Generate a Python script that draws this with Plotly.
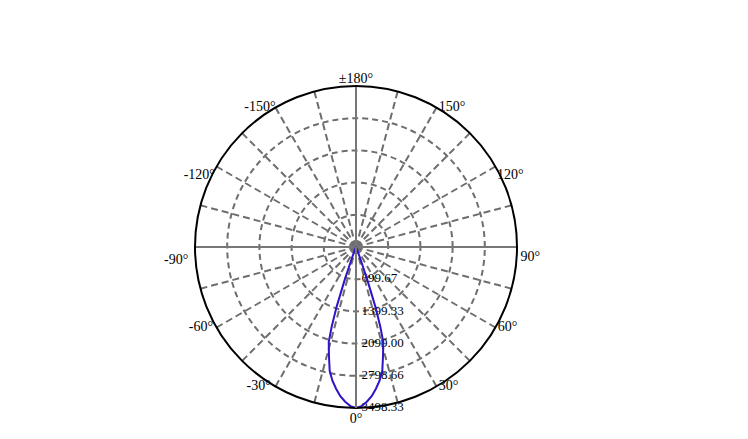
import plotly.graph_objects as go

# candela distribution (symmetric lobe around 0 deg)
angles = [0, 2, 4, 6, 8, 10, 12, 14, 16, 17, 18, 19, 20, 21, 22, 24, 26, 30, 45, 60, 90, 120, 150, 180]
intensity = [3498, 3460, 3370, 3260, 3110, 2950, 2750, 2430, 2150, 1800, 1350, 750, 300, 120, 50, 15, 5, 0, 0, 0, 0, 0, 0, 0]

r_ticks = [699.67, 1399.33, 2099.00, 2798.66, 3498.33]
r_labels = ["699.67", "1399.33", "2099.00", "2798.66", "3498.33"]
theta_ticks = list(range(0, 360, 15))
label_angles = [0, 30, 60, 90, 120, 150, 180, 210, 240, 270, 300, 330]
label_texts = ["0°", "30°", "60°", "90°", "120°", "150°", "±180°", "-150°", "-120°", "-90°", "-60°", "-30°"]

label_pos = ["bottom center", "middle right", "middle right", "bottom right", "bottom right", "middle right",
             "top center", "middle left", "bottom left", "bottom left", "middle left", "middle left"]
label_pad = [6, 2, 2, 4, 1, 2, 0, 0, 1, 9, 4, 6]

# full curve: -180..180
theta = [-a for a in angles[::-1]] + angles[1:]
r = intensity[::-1] + intensity[1:]

fig = go.Figure()

# solid main axes 0/90/180/270
for a in [0, 90, 180, 270]:
    fig.add_trace(go.Scatterpolar(r=[0, r_ticks[-1]], theta=[a, a], mode="lines",
                                  line=dict(color="#777777", width=2), hoverinfo="skip",
                                  showlegend=False))

# angle labels sitting on the outer circle (invisible markers only give padding)
fig.add_trace(go.Scatterpolar(r=[r_ticks[-1]] * len(label_angles), theta=label_angles,
                              mode="markers+text", text=label_texts, textposition=label_pos,
                              marker=dict(size=label_pad, opacity=0),
                              textfont=dict(family="Liberation Serif", size=14, color="black"),
                              cliponaxis=False, hoverinfo="skip", showlegend=False))

# radial value labels along the 0 deg line
fig.add_trace(go.Scatterpolar(r=r_ticks, theta=[0] * len(r_ticks), mode="markers+text",
                              text=r_labels, textposition="middle right",
                              marker=dict(size=7, opacity=0),
                              textfont=dict(family="Liberation Serif", size=13, color="black"),
                              cliponaxis=False, hoverinfo="skip", showlegend=False))

fig.add_trace(go.Scatterpolar(r=r, theta=theta, mode="lines",
                              line=dict(color="#2d14c8", width=2), showlegend=False))

fig.update_layout(
    width=748, height=439,
    margin=dict(l=187, r=239, t=78, b=39),
    paper_bgcolor="white",
    font=dict(family="Liberation Serif", size=14, color="black"),
    polar=dict(
        bgcolor="white",
        angularaxis=dict(
            rotation=-90, direction="counterclockwise",
            tickmode="array", tickvals=theta_ticks, showticklabels=False,
            ticks="", showline=True, linecolor="black", linewidth=2,
            gridcolor="#6e6e6e", griddash="7px,4px", gridwidth=1.6,
        ),
        radialaxis=dict(
            range=[0, r_ticks[-1]], angle=-90,
            tickmode="array", tickvals=r_ticks, showticklabels=False,
            ticks="", showline=True, linecolor="#777777", linewidth=2,
            gridcolor="#6e6e6e", griddash="6px,4px", gridwidth=1.7,
        ),
    ),
)

fig.write_html("out.html")
